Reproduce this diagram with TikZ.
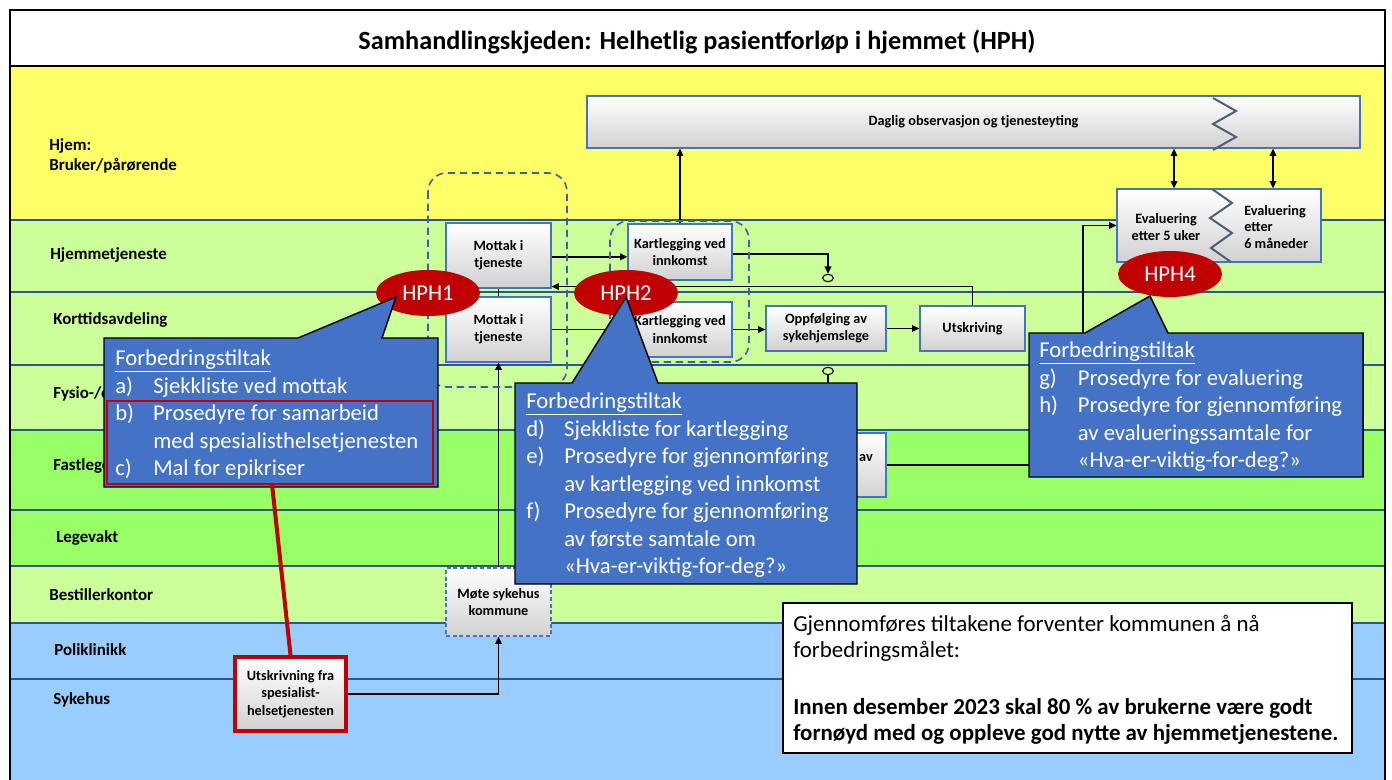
\documentclass[tikz,border=0pt]{standalone}
\usepackage{fontspec}
\setmainfont{Carlito}
\usetikzlibrary{arrows.meta,shapes.geometric}
\definecolor{yel}{HTML}{FFFF66}
\definecolor{lgreen}{HTML}{CCFF99}
\definecolor{dgreen}{HTML}{99FF66}
\definecolor{lblue}{HTML}{99CCFF}
\definecolor{lanel}{HTML}{2F5597}
\definecolor{boxb}{HTML}{4472C4}
\definecolor{grpb}{HTML}{3A62A8}
\definecolor{calb}{HTML}{4472C4}
\definecolor{hphred}{HTML}{C00000}
\definecolor{ziggray}{HTML}{4F5E78}
\tikzset{
  laneline/.style={draw=lanel, line width=1.0pt},
  lanelabel/.style={anchor=base west, inner sep=0pt, font=\bfseries\fontsize{12.7}{15}\selectfont},
  box/.style={draw=boxb, line width=0.9pt, top color=white, bottom color=black!18, inner sep=0pt, align=center, font=\bfseries\fontsize{10.7}{13}\selectfont},
  boxtext/.style={inner sep=0pt, font=\bfseries\fontsize{10.7}{12.5}\selectfont},
  conn/.style={line width=1.1pt},
  arr/.style={conn, -{Triangle[length=5.5pt,width=5pt]}},
  darr/.style={conn, {Triangle[length=5.5pt,width=5pt]}-{Triangle[length=5.5pt,width=5pt]}},
  grp/.style={draw=grpb, line width=1.2pt, dash pattern=on 5.5pt off 3.5pt, rounded corners=14pt},
  hph/.style={ellipse, fill=hphred, text=white, minimum width=78pt, minimum height=34.5pt, inner sep=0pt, font=\fontsize{17}{20}\selectfont},
  callout/.style={fill=calb, draw=black, line width=1.1pt, line join=miter},
  ctext/.style={anchor=base west, inner sep=0pt, text=white, font=\fontsize{17}{20.6}\selectfont},
  zig/.style={draw=ziggray, line width=1.5pt},
  smallc/.style={ellipse, draw=black, line width=0.8pt, minimum width=8pt, minimum height=5.5pt, inner sep=0pt},
  redlink/.style={draw=hphred, line width=3pt},
}
\begin{document}
\begin{tikzpicture}[x=0.75pt,y=-0.75pt]
\useasboundingbox (0,0) rectangle (1392,780);
\fill[white] (0,0) rectangle (1392,780);
% lanes
\fill[yel] (10,66) rectangle (1385,220);
\fill[lgreen] (10,220) rectangle (1385,430);
\fill[dgreen] (10,430) rectangle (1385,566);
\fill[lgreen] (10,566) rectangle (1385,623);
\fill[lblue] (10,623) rectangle (1385,782);
\foreach \yy in {220,292,365,430,510,566,623,679} {\draw[laneline] (10,\yy) -- (1385,\yy);}
% frame and title
\draw[line width=1.4pt] (10,10) rectangle (1385,785);
\draw[line width=1.4pt] (10,66) -- (1385,66);
\node[font=\bfseries\fontsize{19.7}{22}\selectfont] (title) at (697,42) {Samhandlingskjeden: Helhetlig pasientforløp i hjemmet (HPH)};
% lane labels
\node[lanelabel] (l0a) at (49,151) {Hjem:};
\node[lanelabel] (l0b) at (49,171) {Bruker/pårørende};
\node[lanelabel] (l1) at (50,260) {Hjemmetjeneste};
\node[lanelabel] (l2) at (53,325) {Korttidsavdeling};
\node[lanelabel] (l3) at (53,398) {Fysio-/ergoterapi};
\node[lanelabel] (l4) at (53,470) {Fastlege};
\node[lanelabel] (l5) at (56,542) {Legevakt};
\node[lanelabel] (l6) at (49,600) {Bestillerkontor};
\node[lanelabel] (l7) at (54,655) {Poliklinikk};
\node[lanelabel] (l8) at (53,704) {Sykehus};
% boxes
\node[box, minimum width=579.75pt, minimum height=39pt] (dag) at (973.5,122) {Daglig observasjon og tjenesteyting};
\node[box, minimum width=78.75pt, minimum height=48.75pt] (m1) at (498.5,255.5) {Mottak i\\tjeneste};
\node[box, minimum width=78.75pt, minimum height=48.75pt] (m2) at (498.5,329.5) {Mottak i\\tjeneste};
\node[box, minimum width=78pt, minimum height=42pt] (k1) at (680,252) {Kartlegging ved\\innkomst};
\node[box, minimum width=78pt, minimum height=41.25pt] (k2) at (680,329.5) {Kartlegging ved\\innkomst};
\node[box, minimum width=90pt, minimum height=33.75pt] (opp) at (826,328.5) {Oppfølging av\\sykehjemslege};
\node[box, minimum width=78.75pt, minimum height=33.75pt] (utsk) at (972.5,328.5) {Utskriving};
\node[box, minimum width=153pt, minimum height=54.75pt] (eval) at (1219,225.5) {};
\node[boxtext, align=center] (evl) at (1166,227) {Evaluering\\etter 5 uker};
\node[boxtext, align=left, anchor=west] (evr) at (1244,227) {Evaluering\\etter\\6 måneder};
\node[box, minimum width=109.5pt, minimum height=48pt] (avb) at (813,465) {};
\node[boxtext] (avt) at (866,458) {av};
\node[box, dash pattern=on 3pt off 2pt, minimum width=78.75pt, minimum height=51pt] (mote) at (498.5,602) {Møte sykehus\\kommune};
% zigzags
\draw[zig] (1213,98) -- (1236,111) -- (1213,124) -- (1236,137) -- (1213,150);
\draw[zig] (1212,189) -- (1232,203) -- (1210,218) -- (1232,233) -- (1211,248) -- (1231,262);
% small circles
\node[smallc] (c1) at (828,278) {};
\node[smallc] (c2) at (828,371) {};
% coordinates
\coordinate (a1) at (1174,0);
\coordinate (a2) at (1273,0);
\coordinate (h4src) at (1083,333);
\coordinate (avdst) at (1029,463);
\coordinate (c2dst) at (828,383);
\coordinate (rsrc) at (272,484);
% connectors
\draw[arr] ([yshift=-1pt]m1.east) -- ([yshift=-1pt]m1.east -| k1.west);
\draw[conn] (m1.south) -- (m2.north);
\draw[arr] (m2.east) -- (m2.east -| k2.west);
\draw[arr] (k2.east) -- (k2.east -| opp.west);
\draw[arr] (opp.east) -- (opp.east -| utsk.west);
\draw[arr] (utsk.north) |- ([yshift=1.5pt]m1.south east);
\draw[arr] (k1.north) -- (k1.north |- dag.south);
\draw[arr] ([yshift=-1.5pt]k1.east) -| (c1.north);
\draw[conn] (c2.south) -- (c2dst);
\draw[darr] (eval.north -| a1) -- (dag.south -| a1);
\draw[darr] (eval.north -| a2) -- (dag.south -| a2);
\draw[arr] (h4src) |- (eval.west);
\draw[conn] (avb.east) -- (avb.east -| avdst);
\draw[arr] (mote.north) -- (m2.south);
% groups
\draw[grp] (428,173) rectangle (567,387);
\draw[grp] (610,221) rectangle (749,362);
% HPH ellipses
\node[hph] (hph1) at (428,293) {HPH1};
\node[hph] (hph2) at (626,293) {HPH2};
\node[hph] (hph4) at (1170,274) {HPH4};
% callout 1
\draw[callout] (104,338) -- (298,338) -- (396,297) -- (382,338) -- (438,338) -- (438,487) -- (104,487) -- cycle;
\draw[draw=hphred, line width=0.8pt] (107,401) rectangle (433,484);
\node[ctext] (ct1) at (115,366) {\begin{tabular}[t]{@{}p{28.5pt}@{}l@{}}\multicolumn{2}{@{}l@{}}{\underline{Forbedringstiltak}}\\a)&Sjekkliste ved mottak\\b)&Prosedyre for samarbeid\\&med spesialisthelsetjenesten\\c)&Mal for epikriser\end{tabular}};
% callout 2
\draw[callout] (515,383) -- (572,383) -- (626,297) -- (658,383) -- (857,383) -- (857,584) -- (515,584) -- cycle;
\node[ctext] (ct2) at (526,409) {\begin{tabular}[t]{@{}p{28.5pt}@{}l@{}}\multicolumn{2}{@{}l@{}}{\underline{Forbedringstiltak}}\\d)&Sjekkliste for kartlegging\\e)&Prosedyre for gjennomføring\\&av kartlegging ved innkomst\\f)&Prosedyre for gjennomføring\\&av første samtale om\\&«Hva-er-viktig-for-deg?»\end{tabular}};
% callout 4
\draw[callout] (1029,333) -- (1085,333) -- (1150,296) -- (1168,333) -- (1363,333) -- (1363,477) -- (1029,477) -- cycle;
\node[ctext] (ct4) at (1039,358) {\begin{tabular}[t]{@{}p{29pt}@{}l@{}}\multicolumn{2}{@{}l@{}}{\underline{Forbedringstiltak}}\\g)&Prosedyre for evaluering\\h)&Prosedyre for gjennomføring\\&av evalueringssamtale for\\&«Hva-er-viktig-for-deg?»\end{tabular}};
% hospital discharge
\node[box, draw=hphred, line width=3pt, minimum width=83.25pt, minimum height=55.5pt] (utf) at (290.5,694) {Utskrivning fra\\spesialist-\\helsetjenesten};
\draw[arr] (utf.east) -| (mote.south);
\draw[redlink] (rsrc) -- (utf.north);
% goal box
\node[draw=black, fill=white, line width=1pt, inner sep=0pt, minimum width=426.75pt, minimum height=112.5pt] (goal) at (1067.5,678) {};
\node[anchor=base west, inner sep=0pt, font=\fontsize{17.2}{19.5}\selectfont] (g1) at (793,631) {\begin{tabular}[t]{@{}l@{}}Gjennomføres tiltakene forventer kommunen å nå\\forbedringsmålet:\end{tabular}};
\node[anchor=base west, inner sep=0pt, font=\bfseries\fontsize{17.2}{19.5}\selectfont] (g2) at (793,714) {\begin{tabular}[t]{@{}l@{}}Innen desember 2023 skal 80 \% av brukerne være godt\\fornøyd med og oppleve god nytte av hjemmetjenestene.\end{tabular}};
\end{tikzpicture}
\end{document}
